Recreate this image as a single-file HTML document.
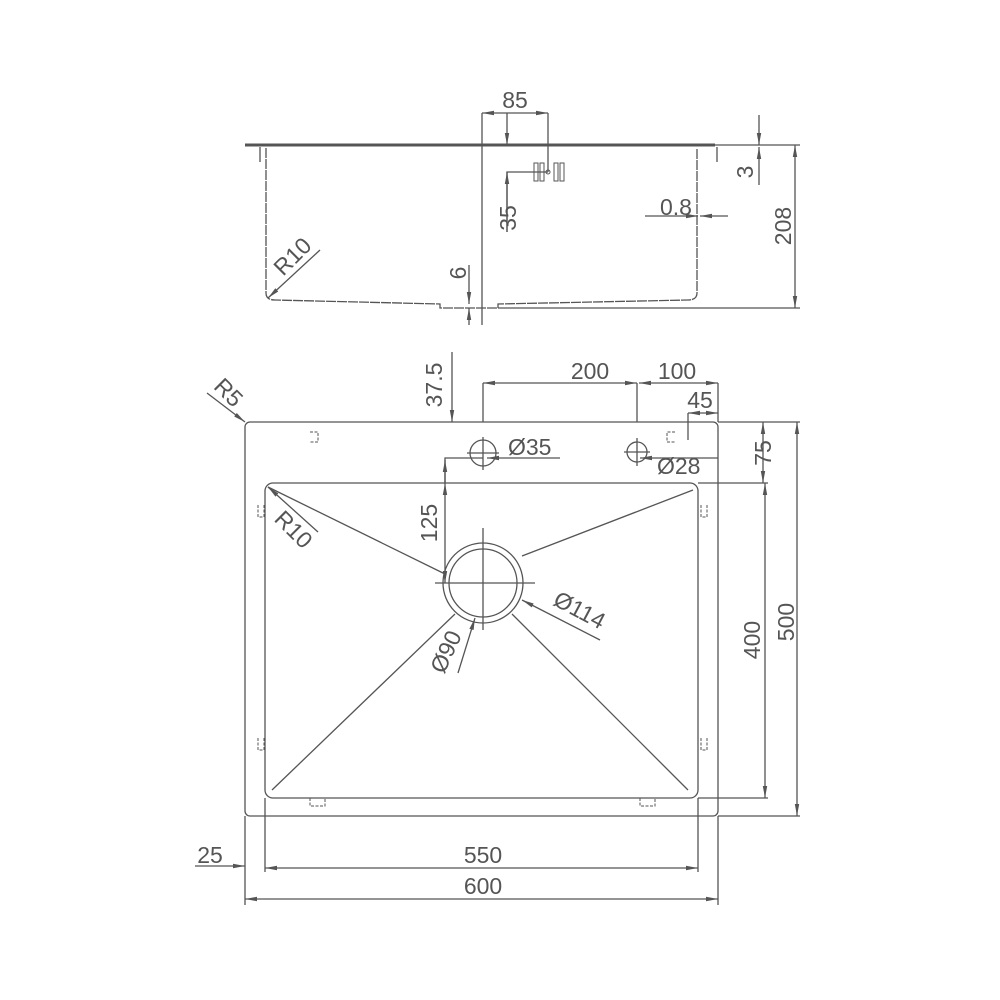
<!DOCTYPE html>
<html><head><meta charset="utf-8"><style>html,body{margin:0;padding:0;background:#fff}svg{display:block}</style></head>
<body>
<svg width="1000" height="1000" viewBox="0 0 1000 1000" xmlns="http://www.w3.org/2000/svg" font-family="Liberation Sans, sans-serif" fill="none" stroke="#555" stroke-width="1.3">
<defs>
<marker id="a" viewBox="0 0 12 6" refX="12" refY="3" markerWidth="12" markerHeight="6" markerUnits="userSpaceOnUse" orient="auto-start-reverse"><path d="M0,0.8 L12,3 L0,5.2z" fill="#555" stroke="none"/></marker>
</defs>
<g fill="#555" stroke="none" font-size="23">
<text x="515" y="108" text-anchor="middle">85</text>
<text x="660" y="215">0.8</text>
<text transform="translate(753,172) rotate(-90)" text-anchor="middle">3</text>
<text transform="translate(791,226) rotate(-90)" text-anchor="middle">208</text>
<text transform="translate(516,218) rotate(-90)" text-anchor="middle">35</text>
<text transform="translate(466,273) rotate(-90)" text-anchor="middle">6</text>
<text transform="translate(298,262) rotate(-45)" text-anchor="middle">R10</text>
<text x="590" y="379" text-anchor="middle">200</text>
<text x="677" y="379" text-anchor="middle">100</text>
<text x="700" y="408" text-anchor="middle">45</text>
<text transform="translate(442,385) rotate(-90)" text-anchor="middle">37.5</text>
<text transform="translate(223,398) rotate(45)" text-anchor="middle">R5</text>
<text x="508" y="455">Ø35</text>
<text x="657" y="474">Ø28</text>
<text transform="translate(771,453) rotate(-90)" text-anchor="middle">75</text>
<text transform="translate(437,523) rotate(-90)" text-anchor="middle">125</text>
<text transform="translate(288,535) rotate(45)" text-anchor="middle">R10</text>
<text transform="translate(576,617) rotate(28)" text-anchor="middle">Ø114</text>
<text transform="translate(453,655) rotate(-65)" text-anchor="middle">Ø90</text>
<text transform="translate(760,640) rotate(-90)" text-anchor="middle">400</text>
<text transform="translate(794,622) rotate(-90)" text-anchor="middle">500</text>
<text x="210" y="863" text-anchor="middle">25</text>
<text x="483" y="863" text-anchor="middle">550</text>
<text x="483" y="894" text-anchor="middle">600</text>
</g>
<!-- top view -->
<line x1="245" y1="145" x2="715" y2="145" stroke-width="3"/>
<line x1="715" y1="145" x2="800" y2="145"/>
<path d="M260 147 V162 M717 147 V162" />
<path d="M266 148 V293 Q266 300 275 300 L440 304 V308 H498 V304 L688 300 Q697 300 697 293 V148" stroke-dasharray="10 1"/>
<line x1="498" y1="308" x2="800" y2="308"/>
<line x1="482" y1="113" x2="482" y2="325"/>
<line x1="482" y1="113" x2="548" y2="113" marker-start="url(#a)" marker-end="url(#a)"/>
<line x1="548" y1="113" x2="548" y2="172"/>
<line x1="507" y1="113" x2="507" y2="145" marker-end="url(#a)"/>
<path d="M534 163h4v18h-4z M540 163h4v18h-4z M554 163h4v18h-4z M560 163h4v18h-4z" stroke-width="1"/>
<circle cx="548" cy="172" r="2" stroke-width="1"/>
<path d="M548 172 H507 V232" />
<line x1="507" y1="232" x2="507" y2="172" marker-end="url(#a)"/>
<line x1="645" y1="216" x2="698" y2="216" marker-end="url(#a)"/>
<line x1="728" y1="216" x2="700" y2="216" marker-end="url(#a)"/>
<line x1="759" y1="115" x2="759" y2="145" marker-end="url(#a)"/>
<line x1="759" y1="185" x2="759" y2="147" marker-end="url(#a)"/>
<line x1="795" y1="145" x2="795" y2="308" marker-start="url(#a)" marker-end="url(#a)"/>
<line x1="320" y1="250" x2="268" y2="298" marker-end="url(#a)"/>
<line x1="469" y1="265" x2="469" y2="304" marker-end="url(#a)"/>
<line x1="469" y1="325" x2="469" y2="308" marker-end="url(#a)"/>
<!-- bottom view -->
<rect x="245" y="422" width="473" height="394" rx="5"/>
<rect x="265" y="483" width="433" height="315" rx="8"/>
<circle cx="483" cy="583" r="40"/>
<circle cx="483" cy="583" r="34"/>
<path d="M483 528 V630 M435 583 H535"/>
<path d="M268 487 L445 574 M693 490 L522 556 M272 790 L455 614 M688 790 L512 614"/>
<circle cx="483" cy="453" r="13"/><path d="M483 437 V470 M467 453 H499"/>
<circle cx="637" cy="452" r="10"/><path d="M637 438 V466 M624 452 H650"/>
<g stroke-width="1" stroke-dasharray="3 1.5">
<path d="M310 432h8v10h-8 M675 432h-8v10h8 M258 505v12h6v-12 M707 505v12h-6v-12 M258 738v12h6v-12 M707 738v12h-6v-12 M310 798v8h15v-8 M640 798v8h15v-8"/>
</g>
<line x1="483" y1="383" x2="483" y2="422"/>
<line x1="637" y1="383" x2="637" y2="422"/>
<line x1="718" y1="383" x2="718" y2="422"/>
<line x1="483" y1="383" x2="637" y2="383" marker-start="url(#a)" marker-end="url(#a)"/>
<line x1="639" y1="383" x2="718" y2="383" marker-start="url(#a)" marker-end="url(#a)"/>
<path d="M688 440 V413"/>
<line x1="688" y1="413" x2="718" y2="413" marker-start="url(#a)" marker-end="url(#a)"/>
<line x1="452" y1="352" x2="452" y2="422" marker-end="url(#a)"/>
<line x1="207" y1="393" x2="245" y2="422" marker-end="url(#a)"/>
<line x1="560" y1="458" x2="487" y2="458" marker-end="url(#a)"/>
<path d="M445 483 V458 H483"/>
<line x1="445" y1="483" x2="445" y2="460" marker-end="url(#a)"/>
<line x1="445" y1="483" x2="445" y2="583" marker-start="url(#a)" marker-end="url(#a)"/>
<line x1="718" y1="458" x2="640" y2="458" marker-end="url(#a)"/>
<line x1="718" y1="422" x2="800" y2="422"/>
<line x1="698" y1="483" x2="768" y2="483"/>
<line x1="698" y1="798" x2="768" y2="798"/>
<line x1="718" y1="816" x2="800" y2="816"/>
<line x1="763" y1="422" x2="763" y2="483" marker-start="url(#a)" marker-end="url(#a)"/>
<line x1="765" y1="483" x2="765" y2="798" marker-start="url(#a)" marker-end="url(#a)"/>
<line x1="797" y1="422" x2="797" y2="816" marker-start="url(#a)" marker-end="url(#a)"/>
<line x1="318" y1="532" x2="268" y2="487" marker-end="url(#a)"/>
<line x1="600" y1="640" x2="522" y2="600" marker-end="url(#a)"/>
<line x1="458" y1="673" x2="475" y2="618" marker-end="url(#a)"/>
<path d="M245 816 V905 M265 798 V872 M698 798 V872 M718 816 V905"/>
<line x1="265" y1="868" x2="698" y2="868" marker-start="url(#a)" marker-end="url(#a)"/>
<line x1="245" y1="899" x2="718" y2="899" marker-start="url(#a)" marker-end="url(#a)"/>
<line x1="195" y1="866" x2="245" y2="866" marker-end="url(#a)"/>
</svg>
</body></html>
